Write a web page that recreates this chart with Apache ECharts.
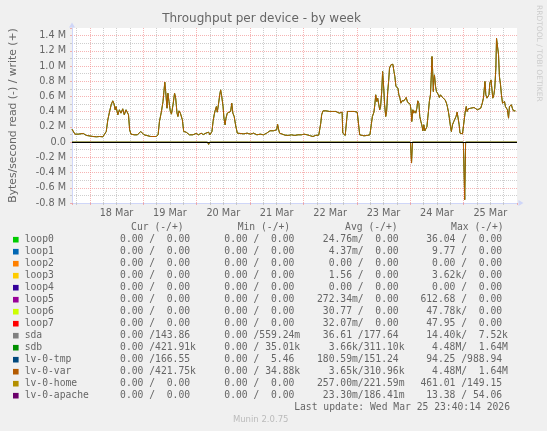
<!DOCTYPE html>
<html><head><meta charset="utf-8">
<script src="https://cdn.jsdelivr.net/npm/echarts@6/dist/echarts.min.js"></script>
<style>html,body{margin:0;padding:0;background:#f0f0f0}#c{width:547px;height:431px}</style>
</head><body><div id="c"></div>
<script>
// ---- time axis data (hours since Mar 17 00:00) ----
const startHour = 16;   // Mar 17 16:00
const endHour = 216;    // Mar 26 00:00
const dayLabels = ['18 Mar','19 Mar','20 Mar','21 Mar','22 Mar','23 Mar','24 Mar','25 Mar'];
const dayNoonHours = [36, 60, 84, 108, 132, 156, 180, 204];

// ---- write (+) samples: offset hours from start, values in MB/s ----
const writeOffsets = [0.0,1.3,2.8,3.5,5.0,5.8,6.5,7.3,9.5,11.0,12.4,13.9,14.6,15.4,16.1,16.9,17.6,18.3,18.8,19.4,19.8,20.6,21.3,22.0,22.8,23.5,24.3,25.0,25.4,25.9,26.5,28.0,29.4,30.9,31.6,32.4,33.1,35.4,37.8,38.7,39.3,40.2,40.9,41.7,42.1,42.7,43.1,43.6,44.2,44.7,45.4,46.1,46.6,47.2,47.6,48.1,48.7,49.1,49.6,50.2,50.6,51.3,52.0,52.8,54.3,55.8,56.9,58.0,59.0,60.2,61.4,62.0,62.9,63.4,63.9,64.3,64.9,65.3,65.8,66.4,66.8,67.3,67.9,68.3,68.8,69.2,69.8,70.6,71.3,71.8,72.3,72.9,73.5,74.3,75.0,77.2,78.7,80.2,81.6,83.1,84.6,86.1,87.5,88.3,89.0,89.8,90.5,91.3,92.0,92.4,92.9,93.3,93.9,95.7,97.2,98.6,100.1,101.6,103.1,104.3,105.7,107.2,108.3,109.4,110.9,111.4,111.8,112.2,112.8,113.4,114.2,114.9,115.7,116.4,117.1,117.9,118.6,119.4,120.1,120.8,121.4,121.7,122.0,122.8,123.3,123.8,124.5,125.3,126.0,126.8,127.5,128.2,128.8,129.3,129.7,131.2,132.7,133.4,133.9,134.5,135.0,135.7,136.1,136.5,137.0,137.4,137.9,138.3,138.7,139.2,139.6,140.1,140.5,141.0,141.4,141.9,142.3,142.7,143.3,143.8,144.2,144.7,145.1,145.6,146.0,146.5,146.9,147.4,147.8,148.3,148.7,149.2,149.6,150.2,150.8,151.4,152.0,152.4,152.7,153.2,153.6,154.1,154.5,155.0,155.4,155.9,156.3,156.8,157.2,157.7,158.1,158.6,159.0,159.5,160.2,160.6,161.1,161.5,161.8,162.1,162.4,162.6,162.9,163.4,163.8,164.2,164.7,165.1,165.6,166.0,166.5,167.1,167.7,168.3,168.7,169.2,169.6,170.1,170.5,171.0,171.6,172.2,172.6,173.1,173.5,174.0,174.4,174.9,175.5,176.0,176.3,176.7,177.2,177.6,178.1,178.5,179.2,180.0,180.7,181.5,182.2,183.0,183.7,184.4,184.9,185.3,185.6,186.0,186.5,186.9,187.4,187.8,188.3,188.7,189.1,189.6,190.0,190.5,190.8,191.2,191.7,192.1,192.6,193.0,193.5,193.9,194.4,194.8,195.3,195.7,196.2,196.6,197.0,197.5,197.9,198.4,198.8,199.3,199.6];
const sdbWrite = [0.17,0.105,0.105,0.088,0.114,0.096,0.088,0.074,0.074,0.07,0.074,0.07,0.079,0.14,0.293,0.403,0.49,0.543,0.512,0.425,0.468,0.359,0.425,0.381,0.438,0.359,0.425,0.446,0.359,0.162,0.105,0.096,0.096,0.14,0.118,0.096,0.083,0.074,0.074,0.096,0.271,0.403,0.534,0.788,0.665,0.446,0.643,0.534,0.403,0.368,0.49,0.643,0.578,0.381,0.337,0.411,0.381,0.359,0.293,0.14,0.118,0.131,0.105,0.096,0.096,0.114,0.096,0.118,0.1,0.118,0.131,0.096,0.14,0.271,0.359,0.411,0.468,0.394,0.49,0.622,0.687,0.6,0.468,0.315,0.228,0.315,0.381,0.394,0.403,0.512,0.381,0.337,0.228,0.118,0.096,0.109,0.118,0.105,0.118,0.096,0.105,0.096,0.118,0.131,0.149,0.158,0.149,0.14,0.162,0.236,0.162,0.118,0.096,0.092,0.088,0.096,0.088,0.096,0.096,0.105,0.096,0.083,0.074,0.088,0.092,0.118,0.249,0.359,0.411,0.394,0.411,0.394,0.403,0.39,0.403,0.381,0.403,0.394,0.381,0.394,0.394,0.118,0.105,0.088,0.074,0.403,0.42,0.403,0.411,0.403,0.411,0.394,0.368,0.096,0.083,0.083,0.088,0.07,0.096,0.228,0.337,0.394,0.49,0.622,0.534,0.578,0.49,0.425,0.468,0.665,0.928,0.709,0.49,0.337,0.403,0.665,0.797,0.972,1.015,1.007,1.024,0.928,0.862,0.731,0.709,0.709,0.622,0.578,0.512,0.543,0.556,0.543,0.556,0.587,0.525,0.512,0.499,0.411,0.271,0.425,0.381,0.411,0.381,0.446,0.543,0.512,0.337,0.271,0.228,0.149,0.228,0.149,0.14,0.2,0.403,0.534,0.622,0.884,1.125,0.928,0.665,0.818,0.884,0.731,0.665,0.687,0.622,0.587,0.622,0.6,0.587,0.6,0.556,0.512,0.468,0.394,0.315,0.206,0.14,0.228,0.271,0.263,0.337,0.394,0.368,0.228,0.118,0.109,0.109,0.105,0.096,0.394,0.468,0.403,0.438,0.425,0.446,0.438,0.455,0.446,0.425,0.411,0.446,0.512,0.578,0.6,0.797,0.622,0.578,0.556,0.622,0.775,0.818,0.709,0.578,0.622,0.709,0.972,1.366,1.374,1.147,0.862,0.753,0.622,0.512,0.49,0.534,0.468,0.49,0.425,0.315,0.468,0.49,0.49,0.446,0.411,0.425,0.411,0.411];
const varWrite = sdbWrite.slice(); // lv-0-var overlaps sdb

// ---- read (-) samples ----
const readOffsets = [0,0.4,1.0,60.9,61.4,61.9,79.4,79.9,80.4,103.3,103.8,104.3,152.1,152.6,153.0,175.9,176.5,176.9,200];
const sdbRead = [0,-0.015,0,0,-0.03,0,0,-0.012,0,0,-0.025,0,0,-0.275,0,0,-0.757,0,0];
const varRead = sdbRead.slice();

// ---- legend table ----
const legendNames = ['loop0','loop1','loop2','loop3','loop4','loop5','loop6','loop7','sda','sdb','lv-0-tmp','lv-0-var','lv-0-home','lv-0-apache'];
const legendColors = ['#00CC00','#0066B3','#FF8000','#FFCC00','#330099','#990099','#CCFF00','#FF0000','#808080','#008F00','#00487D','#B35A00','#B38F00','#6B006B'];
const colHeaders = ['Cur (-/+)','Min (-/+)','Avg (-/+)','Max (-/+)'];
const curCol = ['  0.00 /  0.00 ','  0.00 /  0.00 ','  0.00 /  0.00 ','  0.00 /  0.00 ','  0.00 /  0.00 ','  0.00 /  0.00 ','  0.00 /  0.00 ','  0.00 /  0.00 ','  0.00 /143.86 ','  0.00 /421.91k','  0.00 /166.55 ','  0.00 /421.75k','  0.00 /  0.00 ','  0.00 /  0.00 '];
const minCol = ['  0.00 /  0.00 ','  0.00 /  0.00 ','  0.00 /  0.00 ','  0.00 /  0.00 ','  0.00 /  0.00 ','  0.00 /  0.00 ','  0.00 /  0.00 ','  0.00 /  0.00 ','  0.00 /559.24m','  0.00 / 35.01k','  0.00 /  5.46 ','  0.00 / 34.88k','  0.00 /  0.00 ','  0.00 /  0.00 '];
const avgCol = [' 24.76m/  0.00 ','  4.37m/  0.00 ','  0.00 /  0.00 ','  1.56 /  0.00 ','  0.00 /  0.00 ','272.34m/  0.00 ',' 30.77 /  0.00 ',' 32.07m/  0.00 ',' 36.61 /177.64 ','  3.66k/311.10k','180.59m/151.24 ','  3.65k/310.96k','257.00m/221.59m',' 23.30m/186.41m'];
const maxCol = [' 36.04 /  0.00 ','  9.77 /  0.00 ','  0.00 /  0.00 ','  3.62k/  0.00 ','  0.00 /  0.00 ','612.68 /  0.00 ',' 47.78k/  0.00 ',' 47.95 /  0.00 ',' 14.40k/  7.52k','  4.48M/  1.64M',' 94.25 /988.94 ','  4.48M/  1.64M','461.01 /149.15 ',' 13.38 / 54.06 '];
const lastUpdate = 'Last update: Wed Mar 25 23:40:14 2026';

const FONT = '#666666';
const AXIS = '#CFD6F8';
const MONO = '9.7px "DejaVu Sans Mono"';
const MGRID = 'rgba(240,130,130,0.6)';
const GRID = 'rgba(190,190,190,0.75)';

const pts = (offs, vals) => offs.map((o, i) => [startHour + o, vals[i]]);

const graphics = [];
graphics.push({type:'text', x:261.5, y:19, style:{text:'Throughput per device - by week', font:'12px "DejaVu Sans"', fill:FONT, align:'center', verticalAlign:'middle'}});
graphics.push({type:'text', x:539, y:5, rotation:-Math.PI/2, style:{text:'RRDTOOL / TOBI OETIKER', font:'7.5px "DejaVu Sans"', fill:'#cccccc', align:'left', verticalAlign:'middle'}});
const colX = [108.4, 212.7, 317.0, 420.4];
const headX = [131.1, 237.7, 345.1, 451.1];
const rowY0 = 239.7, rowH = 12;
colHeaders.forEach((h, i) => graphics.push({type:'text', x:headX[i], y:227.3, style:{text:h, font:MONO, fill:FONT, align:'left', verticalAlign:'middle'}}));
const cols = [curCol, minCol, avgCol, maxCol];
legendNames.forEach((n, r) => {
  const y = rowY0 + r * rowH;
  graphics.push({type:'rect', shape:{x:13, y:y-2.8, width:5.6, height:5.6}, style:{fill:legendColors[r]}});
  graphics.push({type:'text', x:24.7, y:y, style:{text:n, font:MONO, fill:FONT, align:'left', verticalAlign:'middle'}});
  cols.forEach((c, ci) => graphics.push({type:'text', x:colX[ci], y:y, style:{text:c[r], font:MONO, fill:FONT, align:'left', verticalAlign:'middle'}}));
});
graphics.push({type:'text', x:510, y:rowY0 + 14*rowH, style:{text:lastUpdate, font:MONO, fill:FONT, align:'right', verticalAlign:'middle'}});
graphics.push({type:'text', x:260.7, y:420, style:{text:'Munin 2.0.75', font:'8.5px "DejaVu Sans"', fill:'#bbbbbb', align:'center', verticalAlign:'middle'}});

const lineSeries = (name, offs, vals, color, extra) => Object.assign({
  name, type:'line', data: pts(offs, vals), showSymbol:false, symbol:'none',
  lineStyle:{color, width:1}, itemStyle:{color}, animation:false, silent:true
}, extra || {});

const chart = echarts.init(document.getElementById('c'), null, {renderer:'canvas'});
chart.setOption({
  backgroundColor:'#f0f0f0',
  animation:false,
  grid:{left:66, top:28, width:451, height:175, show:true, backgroundColor:'#ffffff', borderWidth:0},
  xAxis:{
    type:'value', min:startHour, max:endHour, minInterval:24, maxInterval:24, splitNumber:8,
    axisLine:{show:true, onZero:false, lineStyle:{color:AXIS, width:1}, symbol:['none','triangle'], symbolSize:[6,5], symbolOffset:[0,4]},
    axisTick:{show:true, length:2, lineStyle:{color:MGRID}},
    minorTick:{show:true, splitNumber:4, length:2, lineStyle:{color:GRID}},
    axisLabel:{customValues:dayNoonHours, formatter:(v) => dayLabels[dayNoonHours.indexOf(v)], color:FONT, fontFamily:'DejaVu Sans', fontSize:9.7, margin:5},
    splitLine:{show:true, showMinLine:false, showMaxLine:false, lineStyle:{color:MGRID, type:'dotted', width:1}},
    minorSplitLine:{show:true, lineStyle:{color:GRID, type:'dotted', width:1}}
  },
  yAxis:{
    type:'value', min:-0.8, max:1.5, interval:0.2,
    name:'Bytes/second read (-) / write (+)', nameLocation:'middle', nameGap:53, nameRotate:90,
    nameTextStyle:{color:FONT, fontFamily:'DejaVu Sans', fontSize:10.8},
    axisLine:{show:true, onZero:false, lineStyle:{color:AXIS, width:1}, symbol:['none','triangle'], symbolSize:[6,5], symbolOffset:[0,3]},
    axisTick:{show:true, length:2, lineStyle:{color:MGRID}},
    minorTick:{show:true, splitNumber:2, length:2, lineStyle:{color:GRID}},
    axisLabel:{showMaxLabel:false, color:FONT, fontFamily:'DejaVu Sans', fontSize:9.7, margin:6,
      formatter:(v) => Math.abs(v) < 1e-9 ? '0.0' : v.toFixed(1) + ' M'},
    splitLine:{show:true, showMinLine:false, showMaxLine:false, lineStyle:{color:MGRID, type:'dotted', width:1}},
    minorSplitLine:{show:true, lineStyle:{color:GRID, type:'dotted', width:1}}
  },
  series:[
    lineSeries('sdb read', readOffsets, sdbRead, '#008F00'),
    lineSeries('sdb', writeOffsets, sdbWrite, '#008F00'),
    lineSeries('lv-0-var read', readOffsets, varRead, '#B35A00'),
    lineSeries('lv-0-var', writeOffsets, varWrite, '#B35A00', {
      markLine:{silent:true, symbol:'none', label:{show:false}, lineStyle:{color:'#000000', width:1, type:'solid'}, data:[{yAxis:0}], animation:false}
    })
  ],
  graphic: graphics
});
</script></body></html>
